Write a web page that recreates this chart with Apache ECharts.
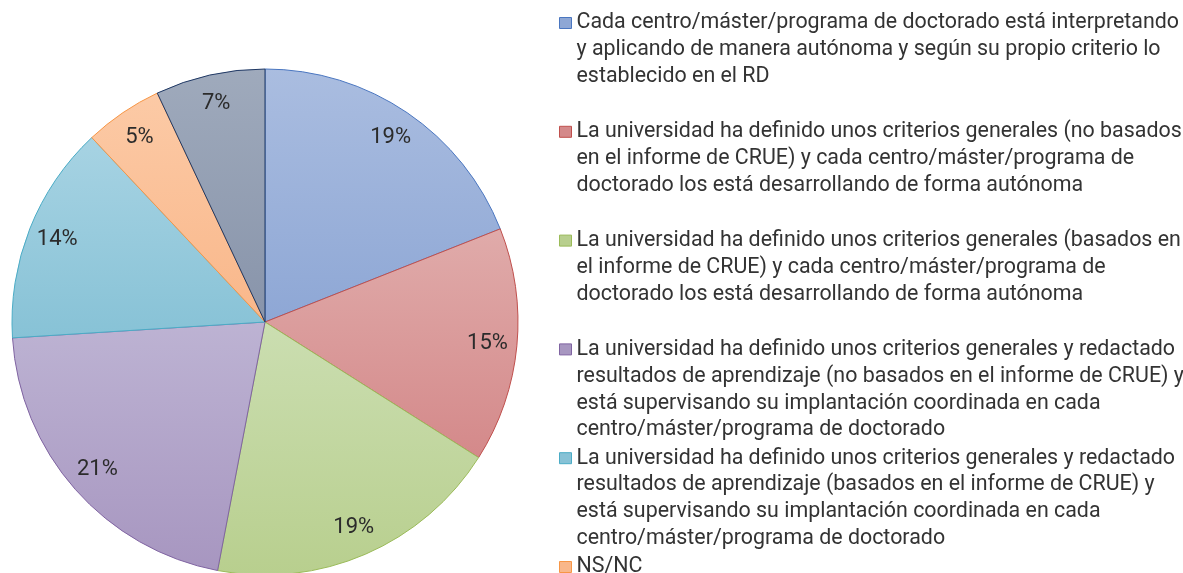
<!DOCTYPE html>
<html>
<head>
<meta charset="utf-8">
<script src="https://cdn.jsdelivr.net/npm/echarts@6/dist/echarts.min.js"></script>
<style>
html,body{margin:0;padding:0;background:#fff;}
#chart{width:1183px;height:573px;}
</style>
</head>
<body>
<div id="chart"></div>
<script>
// Category names (legend text, with the line breaks of the reference)
const categories = [
  "Cada centro/máster/programa de doctorado está interpretando\ny aplicando de manera autónoma y según su propio criterio lo\nestablecido en el RD",
  "La universidad ha definido unos criterios generales (no basados\nen el informe de CRUE) y cada centro/máster/programa de\ndoctorado los está desarrollando de forma autónoma",
  "La universidad ha definido unos criterios generales (basados en\nel informe de CRUE) y cada centro/máster/programa de\ndoctorado los está desarrollando de forma autónoma",
  "La universidad ha definido unos criterios generales y redactado\nresultados de aprendizaje (no basados en el informe de CRUE) y\nestá supervisando su implantación coordinada en cada\ncentro/máster/programa de doctorado",
  "La universidad ha definido unos criterios generales y redactado\nresultados de aprendizaje (basados en el informe de CRUE) y\nestá supervisando su implantación coordinada en cada\ncentro/máster/programa de doctorado",
  "NS/NC",
  "Otros"
];
// Percent shares
const values = [19, 15, 19, 21, 14, 5, 7];

// Style palettes
const topColors    = ['#aabde0', '#e0abaa', '#cbdeb1', '#bdb3d3', '#a7d3e3', '#fccaa6', '#9faabc'];
const bottomColors = ['#8ea7d5', '#d4898a', '#b8cf8e', '#a796c0', '#87c2d6', '#f9b78a', '#8894aa'];
const borderColors = ['#4a76c0', '#c0504d', '#9bbb59', '#8064a2', '#4bacc6', '#f79646', '#1f3864'];

const LH = 26.9;          // legend line height
const STEP = 108.8;       // distance between legend entries
const FIRST_ICON_Y = 23;  // centre of first legend marker

// Put 3 blank lines before and pad after so every entry is 7 lines tall
// and its first real line sits level with the marker.
function shapeText(s) {
  const n = s.split('\n').length;
  let out = '\u00a0\n\u00a0\n\u00a0\n' + s;
  for (let i = n; i < 4; i++) out += '\n\u00a0';
  return out;
}

const pieData = categories.map((name, i) => ({
  name: name,
  value: values[i],
  itemStyle: {
    color: {
      type: 'linear', x: 0, y: 0, x2: 0, y2: 1,
      colorStops: [{offset: 0, color: topColors[i]}, {offset: 1, color: bottomColors[i]}]
    },
    borderColor: borderColors[i],
    borderWidth: 1
  }
}));

const labelData = categories.map((name, i) => ({name: name, value: values[i]}));

const legends = categories.map((name, i) => ({
  orient: 'vertical',
  left: 559,
  top: FIRST_ICON_Y + i * STEP - 3.5 * LH,
  bottom: -800,
  padding: 0,
  itemGap: 0,
  itemWidth: 12,
  itemHeight: 11,
  icon: 'rect',
  selectedMode: false,
  data: [{
    name: name,
    itemStyle: {color: bottomColors[i], borderColor: borderColors[i], borderWidth: 1}
  }],
  formatter: function (nm) { return shapeText(nm); },
  textStyle: {
    fontFamily: 'Roboto',
    fontSize: 21.4,
    color: '#333333',
    lineHeight: LH
  }
}));

const chart = echarts.init(document.getElementById('chart'), null, {renderer: 'canvas'});
chart.setOption({
  animation: false,
  backgroundColor: '#ffffff',
  legend: legends,
  series: [
    {
      type: 'pie',
      center: [265, 322],
      radius: [0, 253],
      startAngle: 90,
      clockwise: true,
      silent: true,
      label: {show: false},
      labelLine: {show: false},
      data: pieData
    },
    {
      type: 'pie',
      center: [265, 322],
      radius: [188, 253],
      startAngle: 90,
      clockwise: true,
      silent: true,
      itemStyle: {color: 'rgba(0,0,0,0)', borderWidth: 0},
      label: {
        show: true,
        position: 'inner',
        formatter: '{c}%',
        fontFamily: 'Roboto',
        fontSize: 22,
        color: '#2b2b2b'
      },
      labelLine: {show: false},
      data: labelData
    }
  ]
});
</script>
</body>
</html>
